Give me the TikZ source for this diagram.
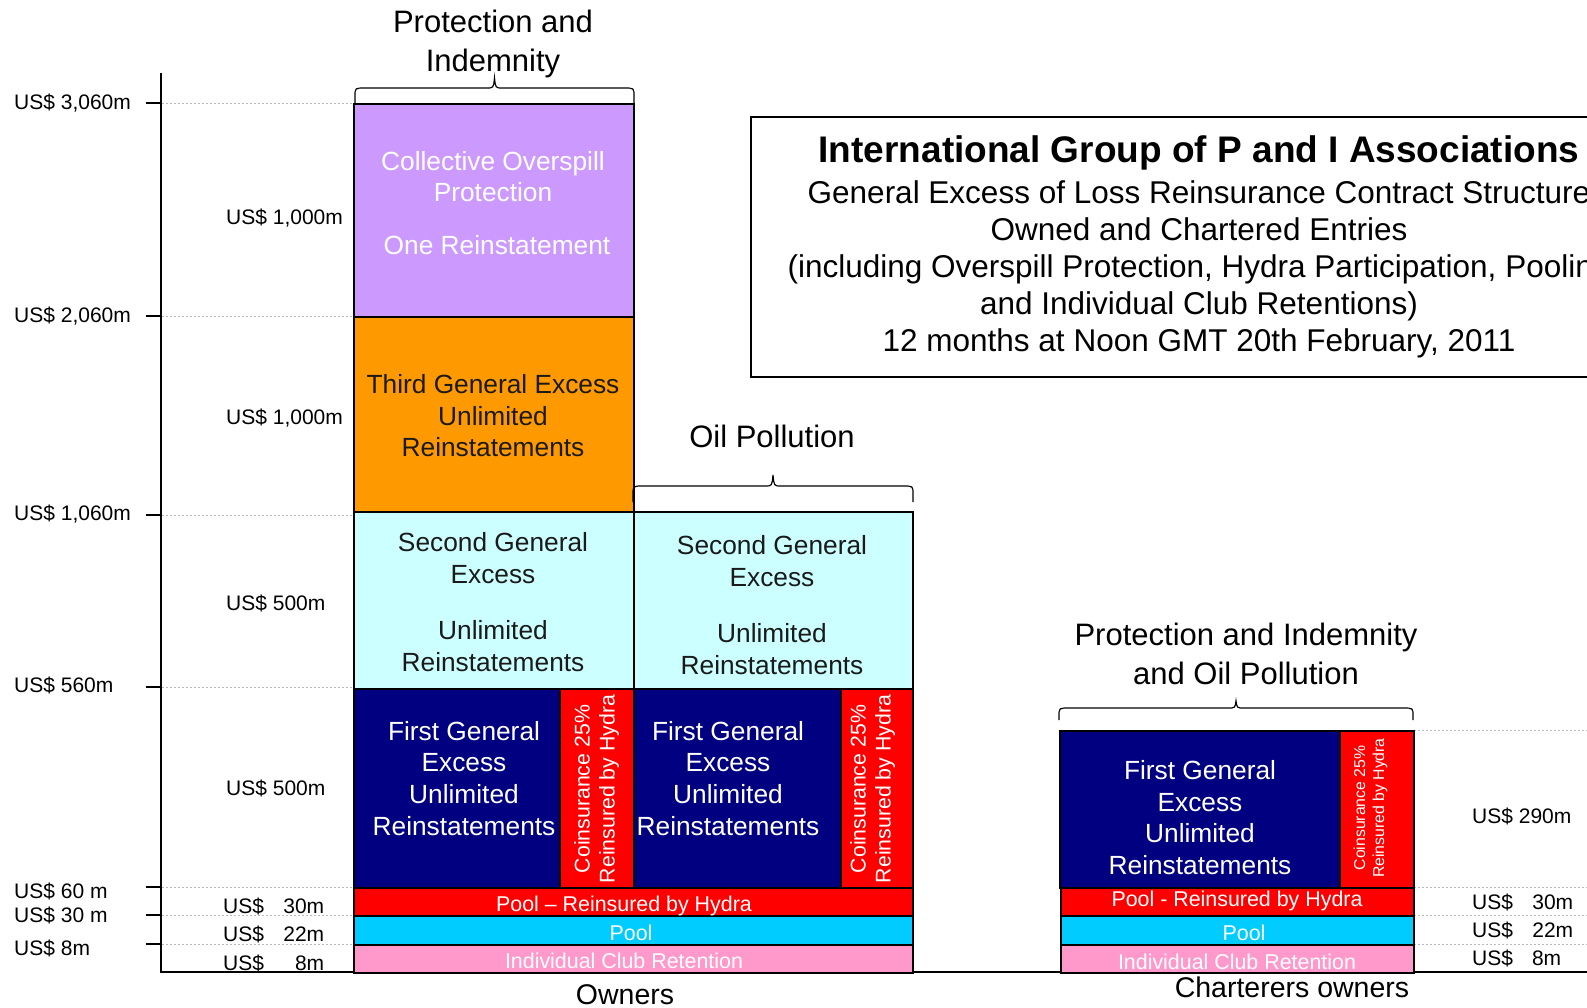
\documentclass[tikz,border=0pt]{standalone}
\usepackage{fontspec}
\setmainfont{Liberation Sans}
\definecolor{lav}{HTML}{CC99FF}
\definecolor{orng}{HTML}{FF9900}
\definecolor{lcyan}{HTML}{CCFFFF}
\definecolor{navyc}{HTML}{000080}
\definecolor{poolblue}{HTML}{00CCFF}
\definecolor{pinkc}{HTML}{FF99CC}
\definecolor{redc}{HTML}{FF0000}
\definecolor{darktext}{HTML}{1A1A1A}
\newcommand\curly[5]{%
 \draw[bracestyle] (#1,#3) -- (#1,#4+8) .. controls (#1,#4) .. (#1+10,#4)
   -- ({(#1+#2)/2-8},#4) .. controls ({(#1+#2)/2-1},#4) .. ({(#1+#2)/2},#5)
   .. controls ({(#1+#2)/2+1},#4) .. ({(#1+#2)/2+8},#4)
   -- (#2-10,#4) .. controls (#2,#4) .. (#2,#4+8) -- (#2,#3);}
\begin{document}
\begin{tikzpicture}[x=1pt,y=-1pt,
  box/.style={draw=black, line width=2pt, inner sep=0pt, anchor=north west},
  gridln/.style={draw=gray!55, line width=0.8pt, dash pattern=on 2pt off 2pt},
  axisline/.style={line width=2pt},
  txt/.style={inner sep=0pt, text depth=0pt},
  lbl/.style={txt, text height=16pt, font=\fontsize{21}{25}\selectfont},
  big/.style={txt, text height=17.5pt, font=\fontsize{26.3}{31.7}\selectfont},
  head/.style={txt, text height=19pt, font=\fontsize{31}{38}\selectfont},
  foot/.style={txt, text height=18pt, font=\fontsize{28.5}{34}\selectfont},
  bartxt/.style={txt, text height=14pt, font=\fontsize{21.4}{25}\selectfont, text=white},
  coin/.style={txt, text height=13pt, rotate=90, text=white, font=\fontsize{21.3}{25}\selectfont},
  coinsmall/.style={txt, text height=12pt, rotate=90, text=white, font=\fontsize{15.8}{19}\selectfont},
  ttl/.style={txt, text height=21pt, font=\bfseries\fontsize{37}{44}\selectfont},
  ttxt/.style={txt, text height=19pt, font=\fontsize{31.5}{37}\selectfont},
  bracestyle/.style={line width=1.2pt},
]
\useasboundingbox (0,0) rectangle (1587,1007);
\clip (0,0) rectangle (1587,1007);

% grid lines
\foreach \y in {103,316,515,687,887,915,944} \draw[gridln] (162,\y) -- (352,\y);
\foreach \y in {730,887,915,944} \draw[gridln] (1414,\y) -- (1587,\y);

% axis and ticks
\draw[axisline] (161,73) -- (161,972) -- (1587,972);
\foreach \y in {103,316,515,687,887,915,944} \draw[axisline] (146,\y) -- (161,\y);

% left axis labels
\node[lbl, anchor=west] (l1) at (14,101) {US\$ 3,060m};
\node[lbl, anchor=west] (l2) at (14,314) {US\$ 2,060m};
\node[lbl, anchor=west] (l3) at (14,512) {US\$ 1,060m};
\node[lbl, anchor=west] (l4) at (14,684) {US\$ 560m};
\node[lbl, anchor=west] (l5) at (14,890) {US\$ 60 m};
\node[lbl, anchor=west] (l6) at (14,914) {US\$ 30 m};
\node[lbl, anchor=west] (l7) at (14,947) {US\$ 8m};

% inner labels
\node[lbl, anchor=west] (i1) at (226,216) {US\$ 1,000m};
\node[lbl, anchor=west] (i2) at (226,416) {US\$ 1,000m};
\node[lbl, anchor=west] (i3) at (226,602) {US\$ 500m};
\node[lbl, anchor=west] (i4) at (226,787) {US\$ 500m};
\node[lbl, anchor=west] (i5) at (223,905) {\hbox to 101pt{US\$\hfill 30m}};
\node[lbl, anchor=west] (i6) at (223,933) {\hbox to 101pt{US\$\hfill 22m}};
\node[lbl, anchor=west] (i7) at (223,962) {\hbox to 101pt{US\$\hfill 8m}};

% right labels
\node[lbl, anchor=west] (r1l) at (1472,815) {US\$ 290m};
\node[lbl, anchor=west] (r2l) at (1472,901) {\hbox to 101pt{US\$\hfill 30m}};
\node[lbl, anchor=west] (r3l) at (1472,929) {\hbox to 101pt{US\$\hfill 22m}};
\node[lbl, anchor=west] (r4l) at (1472,957) {\hbox to 89pt{US\$\hfill 8m}};

% P&I column
\node[box, fill=lav, minimum width=280pt, minimum height=213pt] (pbox) at (353,103) {};
\node[box, fill=orng, minimum width=280pt, minimum height=195pt] (obox) at (353,316) {};
\node[box, fill=lcyan, minimum width=280pt, minimum height=177pt] (c1) at (353,511) {};
\node[box, fill=navyc, minimum width=206pt, minimum height=199pt] (n1) at (353,688) {};
\node[box, fill=redc, minimum width=74pt, minimum height=199pt] (r1) at (559,688) {};
% Oil column
\node[box, fill=lcyan, minimum width=279pt, minimum height=177pt] (c2) at (633,511) {};
\node[box, fill=navyc, minimum width=207pt, minimum height=199pt] (n2) at (633,688) {};
\node[box, fill=redc, minimum width=72pt, minimum height=199pt] (r2) at (840,688) {};
% owners bars
\node[box, fill=redc, minimum width=559pt, minimum height=28pt] (hp1) at (353,887) {};
\node[box, fill=poolblue, minimum width=559pt, minimum height=29pt] (pl1) at (353,915) {};
\node[box, fill=pinkc, minimum width=559pt, minimum height=28pt] (ic1) at (353,944) {};
% charterers
\node[box, fill=navyc, minimum width=280pt, minimum height=157pt] (n3) at (1059,730) {};
\node[box, fill=redc, minimum width=74pt, minimum height=157pt] (r3) at (1339,730) {};
\node[box, fill=redc, minimum width=353pt, minimum height=28pt] (hp2) at (1060,887) {};
\node[box, fill=poolblue, minimum width=353pt, minimum height=29pt] (pl2) at (1060,915) {};
\node[box, fill=pinkc, minimum width=353pt, minimum height=28pt] (ic2) at (1060,944) {};

% braces
\curly{355}{634}{103}{88}{78}
\curly{633}{913}{502}{486}{475}
\curly{1059}{1413}{720}{708}{701}

% headers
\node[head] (h1a) at (493,23) {Protection and};
\node[head] (h1b) at (493,62) {Indemnity};
\node[head] (h2) at (772,438) {Oil Pollution};
\node[head] (h3a) at (1246,636) {Protection and Indemnity};
\node[head] (h3b) at (1246,675) {and Oil Pollution};
\node[foot] (own) at (625,995) {Owners};
\node[foot] (chown) at (1292,988) {Charterers owners};

% purple texts
\node[big, text=white] (p1) at (493,162) {Collective Overspill};
\node[big, text=white] (p2) at (493,193) {Protection};
\node[big, text=white] (p3) at (497,246) {One Reinstatement};
% orange texts
\node[big, text=darktext] (o1) at (493,385) {Third General Excess};
\node[big, text=darktext] (o2) at (493,417) {Unlimited};
\node[big, text=darktext] (o3) at (493,448) {Reinstatements};
% cyan left
\node[big, text=darktext] (ca1) at (493,543) {Second General};
\node[big, text=darktext] (ca2) at (493,575) {Excess};
\node[big, text=darktext] (ca3) at (493,631) {Unlimited};
\node[big, text=darktext] (ca4) at (493,663) {Reinstatements};
% cyan middle
\node[big, text=darktext] (cb1) at (772,546) {Second General};
\node[big, text=darktext] (cb2) at (772,578) {Excess};
\node[big, text=darktext] (cb3) at (772,634) {Unlimited};
\node[big, text=darktext] (cb4) at (772,666) {Reinstatements};
% navy left
\node[big, text=white] (na1) at (464,732) {First General};
\node[big, text=white] (na2) at (464,763) {Excess};
\node[big, text=white] (na3) at (464,795) {Unlimited};
\node[big, text=white] (na4) at (464,827) {Reinstatements};
% navy middle
\node[big, text=white] (nb1) at (728,732) {First General};
\node[big, text=white] (nb2) at (728,763) {Excess};
\node[big, text=white] (nb3) at (728,795) {Unlimited};
\node[big, text=white] (nb4) at (728,827) {Reinstatements};
% navy charterers
\node[big, text=white] (nc1) at (1200,771) {First General};
\node[big, text=white] (nc2) at (1200,803) {Excess};
\node[big, text=white] (nc3) at (1200,834) {Unlimited};
\node[big, text=white] (nc4) at (1200,866) {Reinstatements};
% coinsurance
\node[coin] (ka1) at (583,789) {Coinsurance 25\%};
\node[coin] (ka2) at (608,789) {Reinsured by Hydra};
\node[coin] (kb1) at (859,789) {Coinsurance 25\%};
\node[coin] (kb2) at (884,789) {Reinsured by Hydra};
\node[coinsmall] (kc1) at (1359,808) {Coinsurance 25\%};
\node[coinsmall] (kc2) at (1378,808) {Reinsured by Hydra};
% bars text
\node[bartxt] (bt1) at (624,904) {Pool -- Reinsured by Hydra};
\node[bartxt] (bt2) at (631,933) {Pool};
\node[bartxt] (bt3) at (624,961) {Individual Club Retention};
\node[bartxt] (bt4) at (1237,899) {Pool - Reinsured by Hydra};
\node[bartxt] (bt5) at (1244,933) {Pool};
\node[bartxt] (bt6) at (1237,962) {Individual Club Retention};

% title box
\node[draw=black, line width=2pt, anchor=north west, minimum width=900pt, minimum height=260pt, inner sep=0pt] (tbox) at (750,116) {};
\node[ttl] (t0) at (1199,152) {International Group of P and I Associations};
\node[ttxt] (t1) at (1199,194) {General Excess of Loss Reinsurance Contract Structure};
\node[ttxt] (t2) at (1199,231) {Owned and Chartered Entries};
\node[ttxt] (t3) at (1199,268) {(including Overspill Protection, Hydra Participation, Pooling};
\node[ttxt] (t4) at (1199,305) {and Individual Club Retentions)};
\node[ttxt] (t5) at (1199,342) {12 months at Noon GMT 20th February, 2011};
\end{tikzpicture}
\end{document}
